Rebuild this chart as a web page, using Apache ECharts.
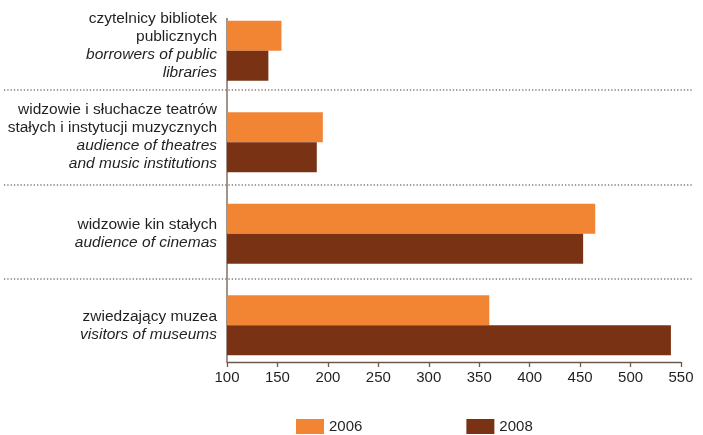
<!DOCTYPE html>
<html>
<head>
<meta charset="utf-8">
<script src="https://cdn.jsdelivr.net/npm/echarts@6/dist/echarts.min.js"></script>
<style>html,body{margin:0;padding:0;background:#fff}#c{width:703px;height:435px}</style>
</head>
<body>
<div id="c"></div>
<script>
var categoriesPL = [
  ['czytelnicy bibliotek', 'publicznych'],
  ['widzowie i słuchacze teatrów', 'stałych i instytucji muzycznych'],
  ['widzowie kin stałych'],
  ['zwiedzający muzea']
];
var categoriesEN = [
  ['borrowers of public', 'libraries'],
  ['audience of theatres', 'and music institutions'],
  ['audience of cinemas'],
  ['visitors of museums']
];
var seriesNames = ['2006', '2008'];
var values2006 = [154, 195, 465, 360];
var values2008 = [141, 189, 453, 540];
var xTicks = {min: 100, max: 550, interval: 50};

var categories = categoriesPL.map(function (pl, i) {
  var lines = pl.map(function (t) { return '{a|' + t + '}'; })
    .concat(categoriesEN[i].map(function (t) { return '{b|' + t + '}'; }));
  var n = lines.length;
  return {
    value: lines.join('\n'),
    textStyle: {padding: n > 2 ? [0, 0, 11, 0] : [0, 0, 0, 0]}
  };
});

var chart = echarts.init(document.getElementById('c'));
var axisCol = '#6f5a4a';
var txt = '#231f20';
var font = '"Liberation Sans", Arial, sans-serif';
chart.setOption({
  animation: false,
  textStyle: {fontFamily: font},
  grid: {left: 227, right: 22, top: 5, bottom: 64},
  xAxis: {
    type: 'value', min: xTicks.min, max: xTicks.max, interval: xTicks.interval,
    offset: -9,
    axisLine: {show: true, lineStyle: {color: axisCol, width: 1.3}},
    axisTick: {show: true, length: 5, lineStyle: {color: axisCol, width: 1.3}},
    splitLine: {show: false},
    axisLabel: {color: txt, fontSize: 15, margin: 8, fontFamily: font}
  },
  yAxis: {
    type: 'category', inverse: true, data: categories,
    axisLine: {show: false}, axisTick: {show: false},
    axisLabel: {
      margin: 10, color: txt, fontFamily: font,
      rich: {
        a: {fontSize: 15.5, lineHeight: 18, color: txt, fontFamily: font},
        b: {fontSize: 15.5, lineHeight: 18, color: txt, fontStyle: 'italic', fontFamily: font}
      }
    }
  },
  legend: {
    top: 419, left: 296, padding: 0, itemWidth: 28, itemHeight: 15, itemGap: 104,
    icon: 'rect',
    textStyle: {fontSize: 15, color: txt, fontFamily: font},
    data: seriesNames
  },
  series: [
    {name: seriesNames[0], type: 'bar', data: values2006, barWidth: 30, barGap: '0%',
     itemStyle: {color: '#f28534'}},
    {name: seriesNames[1], type: 'bar', data: values2008, barWidth: 30, barGap: '0%',
     itemStyle: {color: '#7a3214'}}
  ],
  graphic: [
    {type: 'line', shape: {x1: 227, y1: 18, x2: 227, y2: 362}, style: {stroke: axisCol, lineWidth: 1.3}},
    {type: 'line', shape: {x1: 4, y1: 90, x2: 692, y2: 90}, style: {stroke: '#8a7868', lineWidth: 1.3, lineDash: [1.3, 2]}},
    {type: 'line', shape: {x1: 4, y1: 185, x2: 692, y2: 185}, style: {stroke: '#8a7868', lineWidth: 1.3, lineDash: [1.3, 2]}},
    {type: 'line', shape: {x1: 4, y1: 279, x2: 692, y2: 279}, style: {stroke: '#8a7868', lineWidth: 1.3, lineDash: [1.3, 2]}}
  ]
});
</script>
</body>
</html>
